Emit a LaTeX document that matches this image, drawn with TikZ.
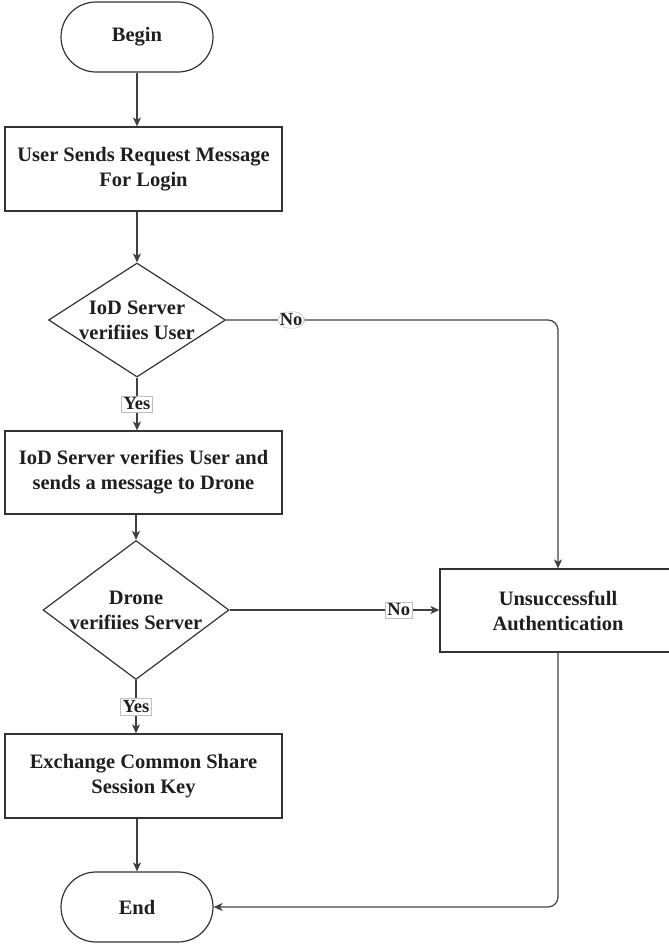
\documentclass[tikz,border=0pt]{standalone}
\usepackage{fontspec}
\setmainfont{Liberation Serif}
\usetikzlibrary{shapes.geometric,shapes.misc,arrows.meta}
\begin{document}
\begin{tikzpicture}[x=1pt,y=-1pt,
  every node/.style={font=\fontsize{20.5}{25}\selectfont\bfseries, align=center, text=black!88},
  term/.style={rounded rectangle, draw=black!80, line width=1.2pt, minimum width=152pt, minimum height=70pt, inner sep=0pt},
  proc/.style={rectangle, draw=black!80, line width=1.2pt, inner sep=0pt},
  dia/.style={diamond, draw=black!80, line width=1.2pt, inner sep=0pt},
  lab/.style={fill=white, draw=black!25, line width=0.6pt, inner sep=2pt, font=\fontsize{18.5}{21}\selectfont\bfseries},
  arr/.style={draw=black!75, line width=1.2pt, -{Stealth[length=9pt,width=8pt,inset=2.5pt]}}
]
\clip (0,0) rectangle (669,945);

\node[term] (begin) at (137,37) {Begin};
\node[proc, minimum width=277pt, minimum height=84pt] (box1) at (143.5,169) {User Sends Request Message\\For Login};
\node[dia, minimum width=177pt, minimum height=114pt, label={center:IoD Server\\verifiies User}] (d1) at (137,320) {};
\node[proc, minimum width=277pt, minimum height=83pt] (box2) at (143.5,472.5) {IoD Server verifies User and\\sends a message to Drone};
\node[dia, minimum width=186pt, minimum height=139pt, label={center:Drone\\verifiies Server}] (d2) at (136,610) {};
\node[proc, minimum width=277pt, minimum height=84pt] (box3) at (143.5,776) {Exchange Common Share\\Session Key};
\node[term] (end) at (137,907) {End};
\node[proc, minimum width=236pt, minimum height=83pt] (fail) at (558,610.5) {Unsuccessfull\\Authentication};

\draw[arr] (begin.south) -- (begin.south |- box1.north);
\draw[arr] (d1.north |- box1.south) -- (d1.north);
\draw[arr] (d1.south) -- node[lab]{Yes} (d1.south |- box2.north);
\draw[arr] (d2.north |- box2.south) -- (d2.north);
\draw[arr] (d2.south) -- node[lab]{Yes} (d2.south |- box3.north);
\draw[arr] (end.north |- box3.south) -- (end.north);
\draw[arr, rounded corners=10pt] (d1.east) -| node[lab, pos=0.098]{No} (fail.north);
\draw[arr] (d2.east) -- node[lab, pos=0.806]{No} (d2.east -| fail.west);
\draw[arr, rounded corners=10pt] (fail.south) |- (end.east);
\end{tikzpicture}
\end{document}
